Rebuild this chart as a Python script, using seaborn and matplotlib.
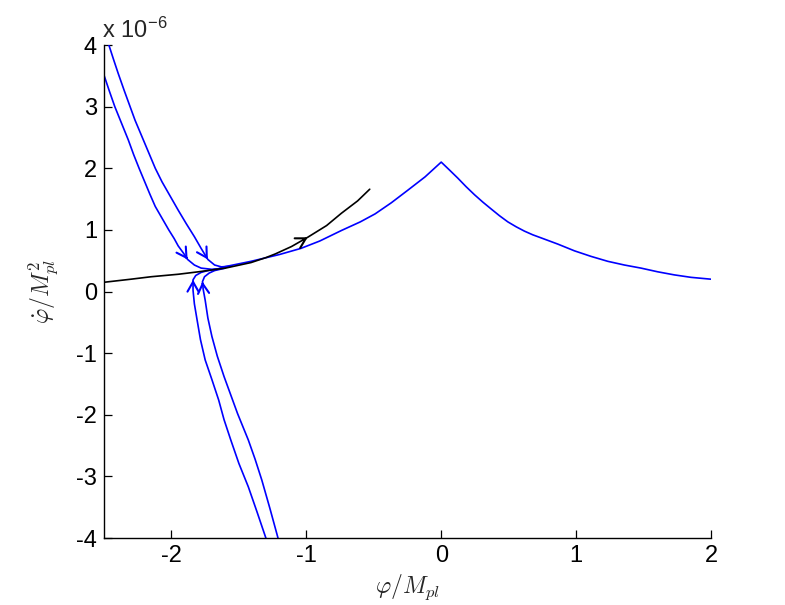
import numpy as np
import pandas as pd
import matplotlib
matplotlib.use("Agg")
import matplotlib.pyplot as plt
import seaborn as sns

# ---- data (phi in M_pl, phidot in units of 1e-6 M_pl^2) ----
main_x = [-1.66, -1.61, -1.41, -1.2, -1.04, -0.9, -0.74, -0.6, -0.49, -0.37, -0.25, -0.12,
          0.0, 0.062, 0.123, 0.185, 0.247, 0.309, 0.370, 0.432, 0.494, 0.556, 0.617,
          0.679, 0.741, 0.864, 0.988, 1.111, 1.235, 1.358, 1.481, 1.605, 1.728, 1.852, 2.0]
main_y = [0.36, 0.40, 0.49, 0.60, 0.70, 0.82, 0.99, 1.13, 1.26, 1.44, 1.64, 1.86,
          2.10, 1.97, 1.84, 1.70, 1.57, 1.45, 1.34, 1.23, 1.13, 1.05, 0.98,
          0.92, 0.87, 0.77, 0.66, 0.57, 0.49, 0.43, 0.38, 0.32, 0.27, 0.23, 0.20]

topA_x = [-2.50, -2.46, -2.42, -2.37, -2.32, -2.28, -2.24, -2.20, -2.16, -2.12, -2.07,
          -2.02, -1.98, -1.95, -1.91, -1.88, -1.83, -1.78, -1.70, -1.64]
topA_y = [3.51, 3.25, 3.00, 2.73, 2.46, 2.22, 2.00, 1.79, 1.58, 1.38, 1.19,
          1.00, 0.86, 0.74, 0.62, 0.52, 0.43, 0.38, 0.36, 0.37]

topB_x = [-2.464, -2.43, -2.395, -2.35, -2.31, -2.27, -2.22, -2.17, -2.12, -2.07, -2.01,
          -1.95, -1.89, -1.83, -1.78, -1.73, -1.68, -1.63, -1.56]
topB_y = [4.0, 3.77, 3.54, 3.26, 3.02, 2.78, 2.52, 2.26, 2.00, 1.78, 1.55,
          1.32, 1.10, 0.89, 0.70, 0.52, 0.43, 0.40, 0.41]

botC_x = [-1.28, -1.30, -1.365, -1.43, -1.50, -1.56, -1.61, -1.65, -1.70, -1.75, -1.785,
          -1.81, -1.83, -1.84, -1.84, -1.82, -1.78, -1.73, -1.68, -1.60]
botC_y = [-4.2, -4.0, -3.58, -3.17, -2.79, -2.41, -2.08, -1.76, -1.43, -1.11, -0.78,
          -0.46, -0.20, 0.02, 0.19, 0.26, 0.31, 0.34, 0.36, 0.39]

botD_x = [-1.19, -1.21, -1.27, -1.33, -1.38, -1.43, -1.51, -1.56, -1.61, -1.66, -1.70,
          -1.73, -1.75, -1.765, -1.77, -1.755, -1.72, -1.68, -1.60]
botD_y = [-4.2, -4.0, -3.52, -3.06, -2.72, -2.41, -1.98, -1.68, -1.38, -1.05, -0.73,
          -0.43, -0.14, 0.04, 0.16, 0.24, 0.30, 0.34, 0.38]

black_x = [-2.5, -2.3, -2.15, -1.95, -1.8, -1.6, -1.41, -1.3, -1.23, -1.11, -0.99,
           -0.85, -0.74, -0.62, -0.53]
black_y = [0.15, 0.20, 0.24, 0.28, 0.32, 0.38, 0.47, 0.55, 0.61, 0.73, 0.88,
           1.07, 1.27, 1.47, 1.66]

xticks = [-2, -1, 0, 1, 2]
yticks = [-4, -3, -2, -1, 0, 1, 2, 3, 4]

# arrow positions: (curve, index of arrow tip)
arrows = [("topA", 15), ("topB", 15), ("botC", 14), ("botD", 14), ("black", 10)]

sns.set_style("ticks")
plt.rcParams["font.family"] = ["Liberation Sans", "DejaVu Sans"]
plt.rcParams["mathtext.fontset"] = "cm"

fig = plt.figure(figsize=(7.85, 6.05), dpi=100)
ax = fig.add_axes([0.1325, 0.1107, 0.7732, 0.8149])

curves = {
    "main": (main_x, main_y, "#0000ff"),
    "topA": (topA_x, topA_y, "#0000ff"),
    "topB": (topB_x, topB_y, "#0000ff"),
    "botC": (botC_x, botC_y, "#0000ff"),
    "botD": (botD_x, botD_y, "#0000ff"),
    "black": (black_x, black_y, "black"),
}
for name, (xs, ys, col) in curves.items():
    df = pd.DataFrame({"x": xs, "y": ys})
    sns.lineplot(data=df, x="x", y="y", sort=False, estimator=None, color=col,
                 lw=1.2, ax=ax)

for name, idx in arrows:
    xs, ys, col = curves[name]
    x1, y1 = xs[idx], ys[idx]
    x0, y0 = xs[idx - 1], ys[idx - 1]
    dx, dy = x1 - x0, y1 - y0
    ax.annotate("", xy=(x1, y1), xytext=(x1 - dx * 0.3, y1 - dy * 0.3),
                arrowprops=dict(arrowstyle="->,head_length=0.7,head_width=0.4",
                                color=col, lw=1.5, shrinkA=0, shrinkB=0))

ax.set_xlim(-2.5, 2)
ax.set_ylim(-4, 4)
ax.set_xticks(xticks)
ax.set_yticks(yticks)
ax.set_xticklabels([str(t) for t in xticks])
ax.set_yticklabels([str(t) for t in yticks])
ax.tick_params(direction="in", length=6, width=0.9, labelsize=17, colors="black", pad=5)
for s in ["top", "right"]:
    ax.spines[s].set_visible(False)
for s in ["left", "bottom"]:
    ax.spines[s].set_linewidth(1.0)
    ax.spines[s].set_color("black")

ax.set_xlabel(r"$\varphi/M_{pl}$", fontsize=17, labelpad=4)
ax.set_ylabel(r"$\dot{\varphi}/M_{pl}^{2}$", fontsize=17, labelpad=12)

ax.text(-0.003, 1.005, r"x 10$^{\mathregular{-6}}$", transform=ax.transAxes,
        fontsize=17, ha="left", va="bottom")

fig.savefig("out.png", dpi=100, facecolor="white")
